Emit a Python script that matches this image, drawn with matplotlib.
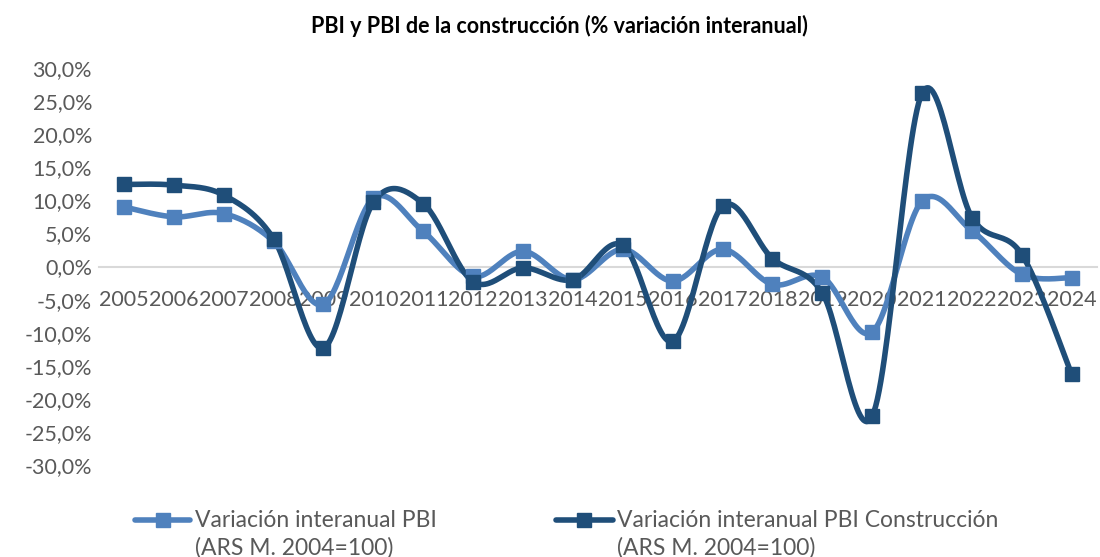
import numpy as np
import matplotlib
matplotlib.use("Agg")
import matplotlib.pyplot as plt
from matplotlib.lines import Line2D
from matplotlib.ticker import FuncFormatter

years = ["2005", "2006", "2007", "2008", "2009", "2010", "2011", "2012", "2013", "2014",
         "2015", "2016", "2017", "2018", "2019", "2020", "2021", "2022", "2023", "2024"]
pbi = [9.0, 7.5, 8.0, 3.8, -5.7, 10.3, 5.3, -1.5, 2.3, -2.0,
       2.6, -2.2, 2.6, -2.7, -1.6, -9.9, 9.9, 5.4, -1.2, -1.7]
pbi_constr = [12.4, 12.3, 10.8, 4.2, -12.3, 9.7, 9.5, -2.3, -0.2, -2.0,
              3.2, -11.3, 9.1, 1.2, -4.0, -22.6, 26.2, 7.4, 1.8, -16.3]
labels = ["Variación interanual PBI\n(ARS M. 2004=100)",
          "Variación interanual PBI Construcción\n(ARS M. 2004=100)"]
colors = ["#4F81BD", "#1F4E79"]

GRAY = "#595959"
plt.rcParams["font.family"] = ["Lato", "DejaVu Sans"]


def smooth(x, y, n=30):
    # bezier smoothing like excel's "smoothed line"
    p = np.column_stack([x, y]).astype(float)
    ext = np.vstack([p[0], p, p[-1]])
    out = []
    t = np.linspace(0, 1, n)[:, None]
    for i in range(len(p) - 1):
        p0, p1 = ext[i + 1], ext[i + 2]
        c1 = p0 + (ext[i + 2] - ext[i]) / 6
        c2 = p1 - (ext[i + 3] - ext[i + 1]) / 6
        seg = (1 - t) ** 3 * p0 + 3 * (1 - t) ** 2 * t * c1 + 3 * (1 - t) * t ** 2 * c2 + t ** 3 * p1
        out.append(seg if i == 0 else seg[1:])
    out = np.vstack(out)
    return out[:, 0], out[:, 1]


fig = plt.figure(figsize=(11, 5.57), dpi=100)
ax = fig.add_axes([0.09, 0.165, 0.907, 0.713])

x = np.arange(len(years))
for vals, col in zip([pbi, pbi_constr], colors):
    sx, sy = smooth(x, vals)
    ax.plot(sx, sy, color=col, lw=4, solid_capstyle="round", zorder=3)
    ax.plot(x, vals, ls="none", marker="s", ms=9.5, color=col, zorder=4)

ax.set_xlim(-0.5, len(years) - 0.5)
ax.set_ylim(-30, 30)
ax.set_yticks(np.arange(-30, 31, 5))
ax.yaxis.set_major_formatter(FuncFormatter(lambda v, p: f"{v:.1f}%".replace(".", ",")))
ax.set_xticks(x)
ax.set_xticklabels(years)

for s in ["top", "right", "left"]:
    ax.spines[s].set_visible(False)
ax.spines["bottom"].set_position(("data", 0))
ax.spines["bottom"].set_color("#D9D9D9")
ax.spines["bottom"].set_linewidth(1.5)
ax.spines["bottom"].set_zorder(1)
ax.tick_params(axis="both", length=0, labelsize=15.5, labelcolor=GRAY)
ax.tick_params(axis="x", pad=17)
ax.tick_params(axis="y", pad=5)

fig.text(0.509, 0.953, "PBI y PBI de la construcción (% variación interanual)",
         ha="center", va="center", fontsize=15.5, fontweight="bold", color="black")

# legend at the bottom
for (x0, x1), lab, col in zip([(0.123, 0.173), (0.505, 0.557)], labels, colors):
    ln = Line2D([x0, (x0 + x1) / 2, x1], [0.066, 0.066, 0.066], transform=fig.transFigure,
                color=col, lw=4, marker="s", ms=9.5, markevery=[1], solid_capstyle="round")
    fig.add_artist(ln)
    fig.text(x1 + 0.004, 0.084, lab, ha="left", va="top", fontsize=16.5, color=GRAY,
             linespacing=1.32, transform=fig.transFigure)

fig.savefig("out.png", dpi=100)
